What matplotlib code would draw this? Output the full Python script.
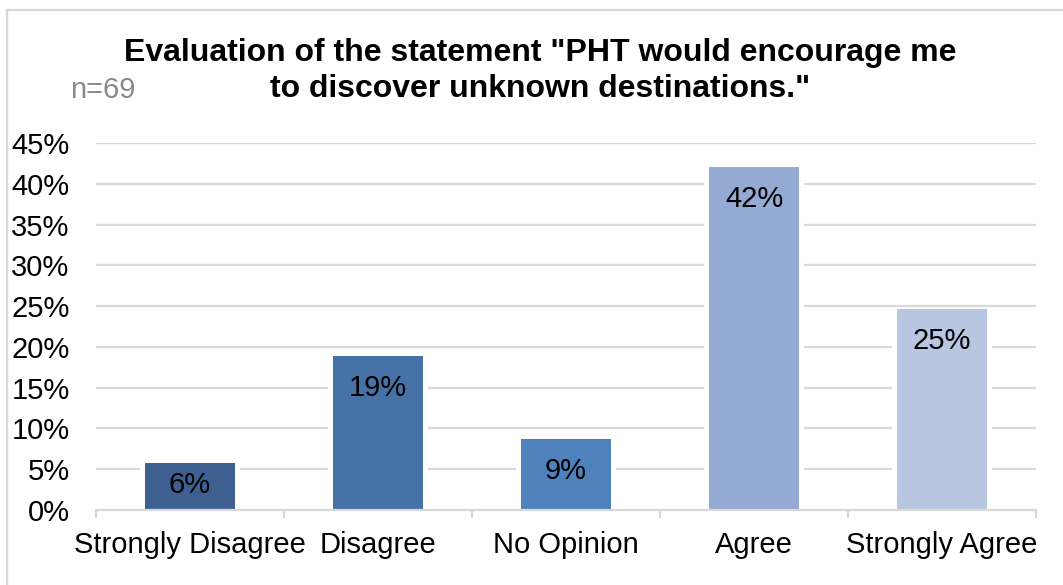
import matplotlib
matplotlib.use("Agg")
import matplotlib.pyplot as plt
from matplotlib.lines import Line2D
from matplotlib.ticker import PercentFormatter, FixedLocator

plt.rcParams['font.family'] = ['Liberation Sans', 'DejaVu Sans']

# Survey responses (n=69)
categories = ["Strongly Disagree", "Disagree", "No Opinion", "Agree", "Strongly Agree"]
counts = [4, 13, 6, 29, 17]
n_total = 69
colors = ["#3D6091", "#4672A7", "#4F81BD", "#95AAD2", "#B9C6E1"]
yticks = [0.0, 0.05, 0.10, 0.15, 0.20, 0.25, 0.30, 0.35, 0.40, 0.45]
title_lines = ["Evaluation of the statement \"PHT would encourage me",
               "to discover unknown destinations.\""]

shares = [c / n_total for c in counts]

W, H = 1063, 585
fig = plt.figure(figsize=(W / 100, H / 100), dpi=100)
ax = fig.add_axes([96 / W, 75 / H, (1036 - 96) / W, (510 - 143) / H])

x = list(range(len(categories)))
grid_c = "#D9D9D9"

for yv in yticks[1:]:
    ax.axhline(yv, color=grid_c, lw=1.6, zorder=1)

# white halo so gridlines break around each bar
ax.bar(x, shares, width=0.527, color="white", linewidth=0, zorder=2)
ax.bar(x, shares, width=0.479, color=colors, linewidth=0, zorder=3)

for xi, v in zip(x, shares):
    off = -8 if v < 0.07 else -18
    ax.annotate(f"{v:.0%}", (xi, v), xytext=(0, off * 0.72), textcoords="offset points",
                ha="center", va="top", fontsize=21, color="black", zorder=4)

ax.set_xlim(-0.5, len(categories) - 0.5)
ax.set_ylim(0, 0.45)
ax.yaxis.set_major_locator(FixedLocator(yticks))
ax.yaxis.set_major_formatter(PercentFormatter(1.0, decimals=0))
ax.set_xticks(x)
ax.set_xticklabels(categories)
ax.xaxis.set_minor_locator(FixedLocator([i - 0.5 for i in range(len(categories) + 1)]))
ax.tick_params(axis="x", which="major", length=0, pad=15, labelsize=21)
ax.tick_params(axis="x", which="minor", length=6, width=1.6, color=grid_c)
ax.tick_params(axis="y", length=0, pad=19, labelsize=21)

for s in ["top", "right", "left"]:
    ax.spines[s].set_visible(False)
ax.spines["bottom"].set_color(grid_c)
ax.spines["bottom"].set_linewidth(1.6)
ax.spines["bottom"].set_zorder(5)

# two-line title, each line centred
for line, base_y in zip(title_lines, [61, 97]):
    fig.text(540 / W, 1 - base_y / H, line, ha="center", va="baseline",
             fontsize=23, fontweight="bold")
fig.text(70 / W, 1 - 98 / H, "n=69", ha="left", va="baseline", fontsize=21, color="#898989")

# chart frame
fig.add_artist(Line2D([7 / W, 1.0], [1 - 10 / H, 1 - 10 / H], color=grid_c, lw=1.6,
                      transform=fig.transFigure))
fig.add_artist(Line2D([7 / W, 7 / W], [0, 1 - 10 / H], color=grid_c, lw=1.6,
                      transform=fig.transFigure))

fig.savefig("out.png", dpi=100, facecolor="white")
